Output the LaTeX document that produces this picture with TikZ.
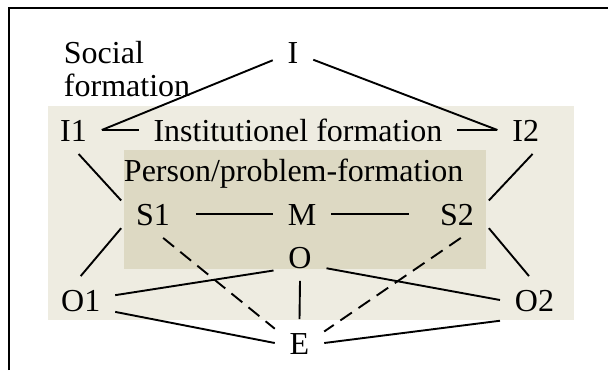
\documentclass[tikz,border=0pt]{standalone}
\usepackage{fontspec}
\setmainfont{Liberation Serif}
\definecolor{tanlight}{HTML}{EEECE1}
\definecolor{tandark}{HTML}{DDD9C3}
\begin{document}
\begin{tikzpicture}[x=.5pt, y=-.5pt, font=\fontsize{16}{16.5}\selectfont, line width=.95pt,
	lbl/.style={inner xsep=7pt, inner ysep=6pt, text height=11pt, text depth=0pt},
	dash line/.style={dash pattern=on 7pt off 4pt}]
	\useasboundingbox (0,0) rectangle (608,370);
	% the two formation boxes
	\fill[tanlight] (48,106) rectangle (574,320);
	\fill[tandark] (124,150) rectangle (486,269);
	\draw[line width=1.1pt] (9,370) -- (9,8) -- (608,8);
	\node[anchor=base west, align=left, inner sep=0pt] (social) at (63,96) {Social\\formation};
	\node[lbl] (I) at (293,52) {I};
	\node[lbl] (I1) at (73.5,130) {I1};
	\node[lbl] (inst) at (298,130) {Institutionel formation};
	\node[lbl] (I2) at (525.7,130) {I2};
	\node[lbl] (person) at (293.7,170) {Person/problem-formation};
	\node[lbl] (S1) at (153,214) {S1};
	\node[lbl] (M) at (302,214) {M};
	\node[lbl] (S2) at (457,214) {S2};
	\node[lbl] (O) at (300,257) {O};
	\node[lbl] (O1) at (80.7,300) {O1};
	\node[lbl] (O2) at (534.5,300) {O2};
	\node[lbl] (E) at (299.5,343) {E};
	\draw (I) -- (I1.east);
	\draw (I) -- (I2.west);
	\draw (I1) -- (inst);
	\draw (inst) -- (I2);
	\draw (I1.-78) -- (S1.157);
	\draw (I2.-74) -- (S2.23);
	\draw (S1.204) -- (O1.north);
	\draw (S2.-24) -- (O2.103);
	\draw[shorten <=5.5pt] (S1) -- (M);
	\draw[shorten >=8pt] (M) -- (S2);
	\draw (O1.8) -- (O.207);
	\draw (O.-23) -- (O2.west);
	\draw (O.south) -- (E.north);
	\draw (O1.-19) -- (E.west);
	\draw (O2.211) -- (E.east);
	\draw[dash line] (S1.-67) -- (E.150);
	\draw[dash line] (S2.-81) -- (E.25);
\end{tikzpicture}
\end{document}
